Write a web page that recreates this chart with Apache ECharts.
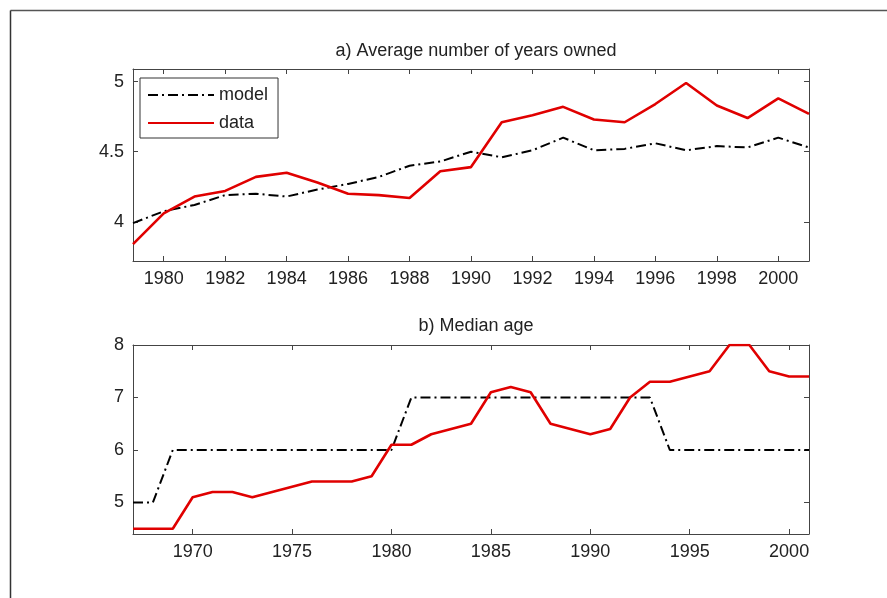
<!DOCTYPE html>
<html>
<head>
<meta charset="utf-8">
<script src="https://cdn.jsdelivr.net/npm/echarts@6/dist/echarts.min.js"></script>
<style>
html,body{margin:0;padding:0;background:#fff;}
#chart{width:887px;height:598px;}
</style>
</head>
<body>
<div id="chart"></div>
<script>
// Panel a) Average number of years owned
const yearsA = [1979,1980,1981,1982,1983,1984,1985,1986,1987,1988,1989,1990,1991,1992,1993,1994,1995,1996,1997,1998,1999,2000,2001];
const modelA = [3.99,4.075,4.12,4.19,4.20,4.18,4.23,4.27,4.32,4.40,4.43,4.50,4.46,4.51,4.60,4.51,4.52,4.56,4.51,4.54,4.53,4.60,4.53];
const dataA  = [3.84,4.06,4.18,4.22,4.32,4.35,4.28,4.20,4.19,4.17,4.36,4.39,4.71,4.76,4.82,4.73,4.71,4.84,4.99,4.83,4.74,4.88,4.77];
const xTicksA = [1980,1982,1984,1986,1988,1990,1992,1994,1996,1998,2000];
const yTicksA = [4,4.5,5];

// Panel b) Median age
const yearsB = [1967,1968,1969,1970,1971,1972,1973,1974,1975,1976,1977,1978,1979,1980,1981,1982,1983,1984,1985,1986,1987,1988,1989,1990,1991,1992,1993,1994,1995,1996,1997,1998,1999,2000,2001];
const modelB = [5,5,6,6,6,6,6,6,6,6,6,6,6,6,7,7,7,7,7,7,7,7,7,7,7,7,7,6,6,6,6,6,6,6,6];
const dataB  = [4.5,4.5,4.5,5.1,5.2,5.2,5.1,5.2,5.3,5.4,5.4,5.4,5.5,6.1,6.1,6.3,6.4,6.5,7.1,7.2,7.1,6.5,6.4,6.3,6.4,7.0,7.3,7.3,7.4,7.5,8.0,8.0,7.5,7.4,7.4];
const xTicksB = [1970,1975,1980,1985,1990,1995,2000];
const yTicksB = [5,6,7,8];

const titles = ['a) Average number of years owned','b) Median age'];
const seriesNames = ['model','data'];

const FONT = "'Liberation Sans', Arial, sans-serif";
const AXC = '#444';
const TXT = '#222';
const RED = '#e00000';

function pairs(xs, ys){ return xs.map((x,i)=>[x, ys[i]]); }

function ax(grid, min, max, ticks, pos, labels){
  return {
    type:'value', gridIndex:grid, min:min, max:max, position:pos,
    axisLine:{show:true, onZero:false, lineStyle:{color:AXC, width:1}},
    axisTick:{show:true, inside:true, length:5, customValues:ticks, lineStyle:{color:AXC}},
    axisLabel:{show:labels, customValues:ticks, color:TXT, fontSize:18, fontFamily:FONT, margin:9,
      formatter:function(v){ return String(v); }},
    splitLine:{show:false}
  };
}

const modelStyle = {color:'#000', width:2, type:[10,4,2,4]};
const dataStyle = {color:RED, width:2.6};

const option = {
  backgroundColor:'#fff',
  animation:false,
  title:[
    {text:titles[0], left:471, top:37, textAlign:'center', textStyle:{fontSize:18, fontWeight:'normal', color:TXT, fontFamily:FONT}},
    {text:titles[1], left:471, top:312, textAlign:'center', textStyle:{fontSize:18, fontWeight:'normal', color:TXT, fontFamily:FONT}}
  ],
  legend:{
    data:seriesNames, orient:'vertical', left:140, top:78,
    itemWidth:66, itemHeight:14, itemGap:10,
    padding:[8,10,6,7],
    borderColor:'#333', borderWidth:1, backgroundColor:'#fff',
    itemStyle:{opacity:0},
    textStyle:{fontSize:18, color:TXT, fontFamily:FONT}
  },
  grid:[
    {left:133, right:78, top:69, height:192},
    {left:133, right:78, top:345, height:189}
  ],
  xAxis:[
    ax(0,1979,2001,xTicksA,'bottom',true),
    ax(0,1979,2001,xTicksA,'top',false),
    ax(1,1967,2001,xTicksB,'bottom',true),
    ax(1,1967,2001,xTicksB,'top',false)
  ],
  yAxis:[
    ax(0,3.72,5.09,yTicksA,'left',true),
    ax(0,3.72,5.09,yTicksA,'right',false),
    ax(1,4.4,8,yTicksB,'left',true),
    ax(1,4.4,8,yTicksB,'right',false)
  ],
  graphic:[
    {type:'line', shape:{x1:10.5,y1:10.5,x2:887,y2:10.5}, style:{stroke:'#555', lineWidth:1.5}, silent:true},
    {type:'line', shape:{x1:10.5,y1:10.5,x2:10.5,y2:598}, style:{stroke:'#333', lineWidth:1.5}, silent:true}
  ],
  series:[
    {name:'model', type:'line', xAxisIndex:0, yAxisIndex:0, data:pairs(yearsA,modelA), symbol:'none', lineStyle:modelStyle, itemStyle:{color:'#000'}, z:3},
    {name:'data', type:'line', xAxisIndex:0, yAxisIndex:0, data:pairs(yearsA,dataA), symbol:'none', lineStyle:dataStyle, itemStyle:{color:RED}, z:4},
    {name:'model', type:'line', xAxisIndex:2, yAxisIndex:2, data:pairs(yearsB,modelB), symbol:'none', lineStyle:modelStyle, itemStyle:{color:'#000'}, z:3},
    {name:'data', type:'line', xAxisIndex:2, yAxisIndex:2, data:pairs(yearsB,dataB), symbol:'none', lineStyle:dataStyle, itemStyle:{color:RED}, z:4}
  ]
};

const chart = echarts.init(document.getElementById('chart'), null, {renderer:'canvas'});
chart.setOption(option);
</script>
</body>
</html>
